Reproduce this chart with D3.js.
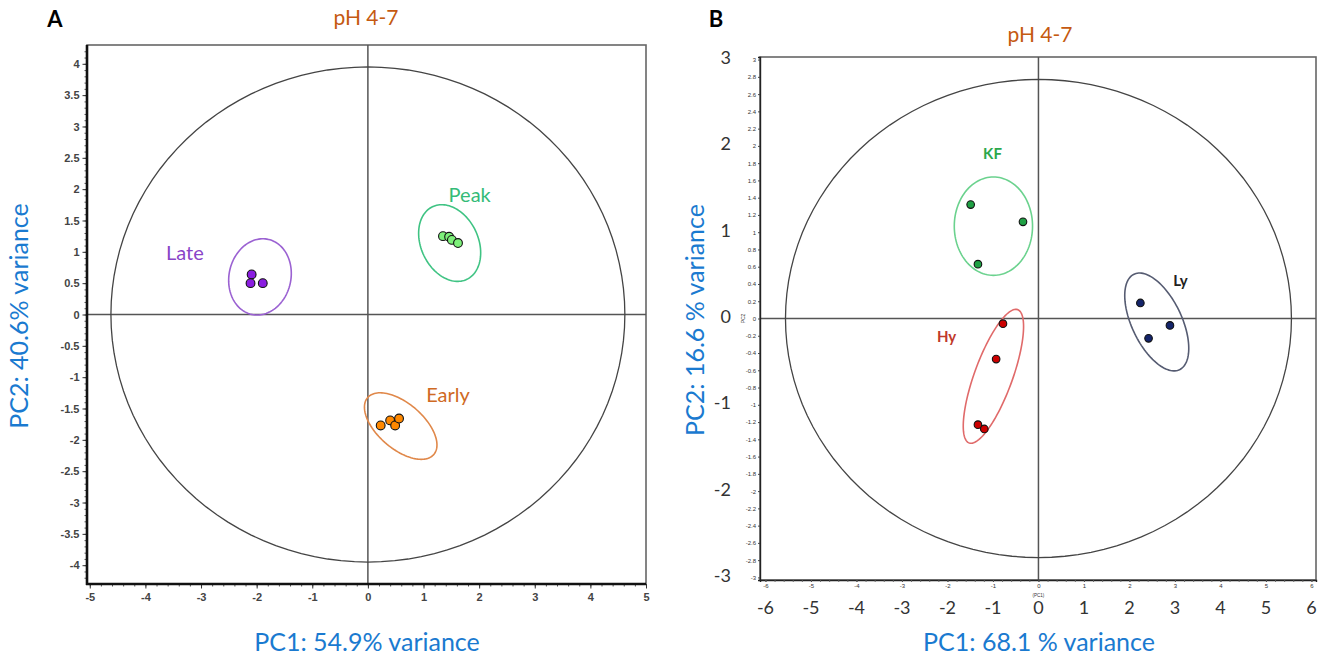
<!DOCTYPE html>
<html>
<head>
<meta charset="utf-8">
<script src="https://cdn.jsdelivr.net/npm/d3@7"></script>
<style>
  body { margin: 0; background: #fff; }
  svg { display: block; }
</style>
</head>
<body>
<svg id="chart" width="1322" height="661"></svg>
<script>
// ---- data: panel A (developmental stage) ----
const lateA = [[-2.09, 0.64], [-2.11, 0.50], [-1.89, 0.50]];
const peakA = [[1.35, 1.25], [1.46, 1.24], [1.51, 1.19], [1.62, 1.14]];
const earlyA = [[0.23, -1.77], [0.40, -1.69], [0.49, -1.77], [0.56, -1.66]];
// ellipse = [cx, cy, semi-axis a, semi-axis b, angle in degrees]
const ellipsesA = {
  Late: [-1.94, 0.6, 0.62, 0.55, 65],
  Peak: [1.47, 1.14, 0.66, 0.5, 125],
  Early: [0.59, -1.78, 0.75, 0.38, -35],
};
const labelsA = { Late: [-3.29, 0.95], Peak: [1.83, 1.87], Early: [1.44, -1.32] };
const boundA = [0, 0, 4.62, 3.95, 0];
const xTicksA = [-5, -4, -3, -2, -1, 0, 1, 2, 3, 4, 5];
const yTicksA = [-4, -3.5, -3, -2.5, -2, -1.5, -1, -0.5, 0, 0.5, 1, 1.5, 2, 2.5, 3, 3.5, 4];

// ---- data: panel B (tissue) ----
const kfB = [[-1.49, 1.32], [-0.34, 1.12], [-1.33, 0.63]];
const hyB = [[-0.78, -0.06], [-0.93, -0.47], [-1.33, -1.23], [-1.19, -1.28]];
const lyB = [[2.24, 0.18], [2.42, -0.23], [2.89, -0.08]];
const ellipsesB = {
  KF: [-0.99, 1.07, 0.86, 0.57, 0],
  Hy: [-0.99, -0.67, 0.955, 0.36, 51],
  Ly: [2.60, -0.04, 0.80, 0.42, 146],
};
const labelsB = { KF: [-1.01, 1.89], Hy: [-2.02, -0.23], Ly: [3.12, 0.42] };
const boundB = [0, 0, 5.56, 2.77, 0];
const xTicksB = [-6, -5, -4, -3, -2, -1, 0, 1, 2, 3, 4, 5, 6];
const yTicksBig = [-3, -2, -1, 0, 1, 2, 3];

const styles = {
  Late:  { fill: "#8a1de0", ring: "#9b62d2", text: "#8a44c8" },
  Peak:  { fill: "#7df07a", ring: "#3fc383", text: "#34bb78" },
  Early: { fill: "#ff8800", ring: "#e0884a", text: "#cf6a24" },
  KF:    { fill: "#1fa044", ring: "#6bd28e", text: "#2ca84c" },
  Hy:    { fill: "#cc0000", ring: "#e06a6a", text: "#c0392b" },
  Ly:    { fill: "#14246a", ring: "#565c72", text: "#222222" },
};

const svg = d3.select("#chart");
const tickFmt = (d) => String(+d.toFixed(1));

function ellipsePoints(e) {
  const [cx, cy, a, b, ang] = e;
  const th = (ang * Math.PI) / 180;
  return d3.range(0, 361, 3).map((deg) => {
    const t = (deg * Math.PI) / 180;
    return [
      cx + a * Math.cos(t) * Math.cos(th) - b * Math.sin(t) * Math.sin(th),
      cy + a * Math.cos(t) * Math.sin(th) + b * Math.sin(t) * Math.cos(th),
    ];
  });
}

function drawPanel(p) {
  const x = d3.scaleLinear().domain(p.xDomain).range(p.xRange);
  const y = d3.scaleLinear().domain(p.yDomain).range(p.yRange);
  const g = svg.append("g");
  const line = d3.line().x((d) => x(d[0])).y((d) => y(d[1]));

  // frame
  g.append("rect")
    .attr("x", p.xRange[0]).attr("y", p.yRange[1])
    .attr("width", p.xRange[1] - p.xRange[0])
    .attr("height", p.yRange[0] - p.yRange[1])
    .attr("fill", "none").attr("stroke", "#666").attr("stroke-width", 1.6);

  // zero cross
  g.append("line")
    .attr("x1", x(0)).attr("x2", x(0))
    .attr("y1", p.yRange[1]).attr("y2", p.yRange[0])
    .attr("stroke", "#555").attr("stroke-width", 1.5);
  g.append("line")
    .attr("x1", p.xRange[0]).attr("x2", p.xRange[1])
    .attr("y1", y(0)).attr("y2", y(0))
    .attr("stroke", "#555").attr("stroke-width", 1.5);

  // Hotelling bound
  g.append("path")
    .attr("d", line(ellipsePoints(p.bound)))
    .attr("fill", "none").attr("stroke", "#444").attr("stroke-width", 1.3);

  // group ellipses
  Object.entries(p.ellipses).forEach(([k, e]) => {
    g.append("path")
      .attr("d", line(ellipsePoints(e)))
      .attr("fill", "none").attr("stroke", styles[k].ring).attr("stroke-width", 1.6);
  });

  // points
  Object.entries(p.groups).forEach(([k, pts]) => {
    g.selectAll(null).data(pts).join("circle")
      .attr("cx", (d) => x(d[0])).attr("cy", (d) => y(d[1]))
      .attr("r", p.r)
      .attr("fill", styles[k].fill).attr("stroke", "#111").attr("stroke-width", 1.1);
  });

  // group labels
  Object.entries(p.labels).forEach(([k, d]) => {
    g.append("text")
      .attr("x", x(d[0])).attr("y", y(d[1]))
      .attr("text-anchor", "middle").attr("dominant-baseline", "middle")
      .attr("font-family", "Lato, 'Open Sans', sans-serif")
      .attr("font-size", p.labelSize).attr("font-weight", p.labelWeight)
      .attr("fill", styles[k].text)
      .text(k);
  });

  return { x, y, g };
}

// ================= Panel A =================
const A = drawPanel({
  xDomain: [-5.05, 5.0], xRange: [87, 646],
  yDomain: [-4.3, 4.3], yRange: [584, 45],
  bound: boundA, ellipses: ellipsesA,
  groups: { Late: lateA, Peak: peakA, Early: earlyA },
  labels: labelsA, r: 4.4, labelSize: 20, labelWeight: 400,
});

// minor ticks
A.g.append("g").attr("transform", "translate(87,0)")
  .call(d3.axisLeft(A.y).tickValues(d3.range(-42, 43).map((i) => i / 10)).tickSize(2.5).tickFormat(""))
  .call((s) => s.select(".domain").remove())
  .selectAll("line").attr("stroke", "#555");
A.g.append("g").attr("transform", "translate(0,584)")
  .call(d3.axisBottom(A.x).tickValues(d3.range(-25, 26).map((i) => i / 5)).tickSize(2.5).tickFormat(""))
  .call((s) => s.select(".domain").remove())
  .selectAll("line").attr("stroke", "#555");

const yAxA = A.g.append("g").attr("transform", "translate(87,0)")
  .call(d3.axisLeft(A.y).tickValues(yTicksA).tickSize(4.5).tickPadding(3).tickFormat(tickFmt));
const xAxA = A.g.append("g").attr("transform", "translate(0,584)")
  .call(d3.axisBottom(A.x).tickValues(xTicksA).tickSize(4.5).tickPadding(5).tickFormat(tickFmt));
[yAxA, xAxA].forEach((ax) => {
  ax.select(".domain").remove();
  ax.selectAll("line").attr("stroke", "#333");
  ax.selectAll("text")
    .attr("font-family", "'Liberation Sans', Arial, sans-serif")
    .attr("font-size", 11).attr("font-weight", 700).attr("fill", "#444");
});
// heavy left/bottom axis lines
A.g.append("line").attr("x1", 87).attr("x2", 87).attr("y1", 45).attr("y2", 585)
  .attr("stroke", "#111").attr("stroke-width", 2.6);
A.g.append("line").attr("x1", 86).attr("x2", 646).attr("y1", 584).attr("y2", 584)
  .attr("stroke", "#111").attr("stroke-width", 2.6);

// ================= Panel B =================
const B = drawPanel({
  xDomain: [-6.12, 6.1], xRange: [760, 1316],
  yDomain: [-3.03, 3.03], yRange: [580, 57],
  bound: boundB, ellipses: ellipsesB,
  groups: { KF: kfB, Hy: hyB, Ly: lyB },
  labels: labelsB, r: 3.8, labelSize: 15, labelWeight: 700,
});

// small inner axes (original software output)
const yAxB = B.g.append("g").attr("transform", "translate(760,0)")
  .call(d3.axisLeft(B.y).tickValues(d3.range(-15, 16).map((i) => i / 5)).tickSize(2).tickPadding(2).tickFormat(tickFmt));
const xAxB = B.g.append("g").attr("transform", "translate(0,580)")
  .call(d3.axisBottom(B.x).tickValues(xTicksB).tickSize(2).tickPadding(2).tickFormat(tickFmt));
B.g.append("g").attr("transform", "translate(0,580)")
  .call(d3.axisBottom(B.x).tickValues(d3.range(-30, 31).map((i) => i / 5)).tickSize(1.8).tickFormat(""))
  .call((s) => s.select(".domain").remove())
  .selectAll("line").attr("stroke", "#555");
[yAxB, xAxB].forEach((ax) => {
  ax.select(".domain").attr("stroke", "#222").attr("stroke-width", 1.4);
  ax.selectAll("line").attr("stroke", "#444");
  ax.selectAll("text")
    .attr("font-family", "'Liberation Sans', Arial, sans-serif")
    .attr("font-size", 6).attr("fill", "#333");
});
B.g.append("text")
  .attr("transform", `translate(744,${B.y(0)}) rotate(-90)`)
  .attr("text-anchor", "middle").attr("dominant-baseline", "middle")
  .attr("font-family", "'Liberation Sans', Arial, sans-serif").attr("font-size", 5).attr("fill", "#333")
  .text("PC2");
B.g.append("text")
  .attr("x", B.x(0)).attr("y", 596.5)
  .attr("text-anchor", "middle")
  .attr("font-family", "'Liberation Sans', Arial, sans-serif").attr("font-size", 4.5).attr("fill", "#333")
  .text("(PC1)");

// large overlay tick labels
B.g.append("g").selectAll("text").data(yTicksBig).join("text")
  .attr("x", 731).attr("y", (d) => B.y(d))
  .attr("text-anchor", "end").attr("dominant-baseline", "middle")
  .attr("font-family", "Lato, 'Open Sans', sans-serif").attr("font-size", 18).attr("fill", "#333")
  .text(tickFmt);
B.g.append("g").selectAll("text").data(xTicksB).join("text")
  .attr("x", (d) => B.x(d)).attr("y", 609)
  .attr("text-anchor", "middle").attr("dominant-baseline", "middle")
  .attr("font-family", "Lato, 'Open Sans', sans-serif").attr("font-size", 18).attr("fill", "#333")
  .text(tickFmt);

// ================= titles =================
const titleFont = "Lato, 'Open Sans', sans-serif";
function addText(x, y, txt, size, color, weight, rotate) {
  svg.append("text")
    .attr("transform", `translate(${x},${y})` + (rotate ? " rotate(-90)" : ""))
    .attr("text-anchor", "middle").attr("dominant-baseline", "middle")
    .attr("font-family", titleFont).attr("font-size", size)
    .attr("font-weight", weight || 400).attr("fill", color)
    .text(txt);
}
addText(55, 21, "A", 22, "#000", 700);
addText(716, 21, "B", 22, "#000", 700);
addText(366, 20, "pH 4-7", 21, "#c55a11");
addText(1040, 37, "pH 4-7", 21, "#c55a11");
addText(367, 645, "PC1: 54.9% variance", 25, "#1a7ad0");
addText(1039, 645, "PC1: 68.1 % variance", 25, "#1a7ad0");
addText(22, 316, "PC2: 40.6% variance", 25, "#1a7ad0", 400, true);
addText(698, 320, "PC2: 16.6 % variance", 25, "#1a7ad0", 400, true);
</script>
</body>
</html>
